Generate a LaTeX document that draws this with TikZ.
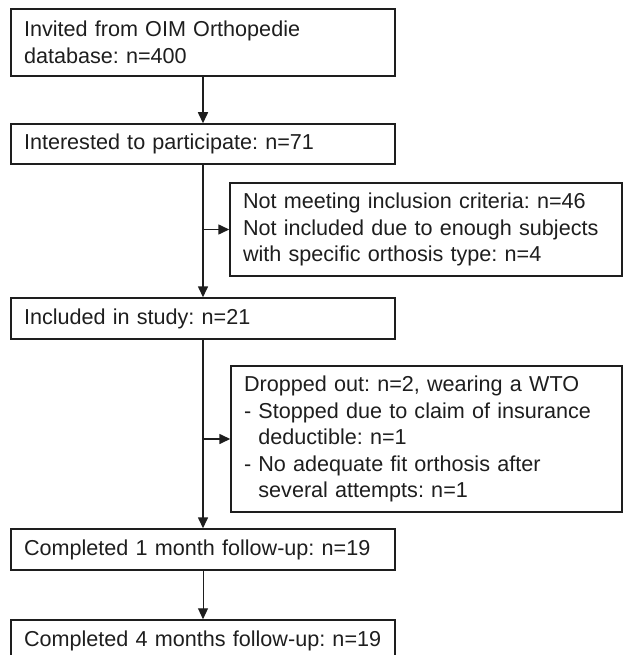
\documentclass[tikz,border=0pt]{standalone}
\usepackage{fontspec}
\setmainfont{Liberation Sans}
\usetikzlibrary{arrows.meta}
\definecolor{ink}{HTML}{1E1E1E}
\frenchspacing
\begin{document}
\begin{tikzpicture}[x=1pt,y=-1pt,
  box/.style={draw=ink, line width=1.5pt, rectangle, inner xsep=13pt, inner ysep=0pt,
    align=left, text=ink, font=\fontsize{21.6}{26.5}\selectfont\frenchspacing, anchor=center},
  arr/.style={draw=ink, line width=1.6pt, -{Triangle[length=11pt,width=10pt]}},
  thinarr/.style={draw=ink, line width=1pt, -{Triangle[length=11pt,width=10pt]}}]
\useasboundingbox (0,0) rectangle (624,655);
\fill[white] (0,0) rectangle (624,655);
\node[box, minimum width=384pt, minimum height=67pt, text width=358pt] (b1) at (203,42.5)
  {Invited from OIM Orthopedie\\database: n=400};
\node[box, minimum width=384pt, minimum height=40pt, text width=358pt] (b2) at (203,144)
  {Interested to participate: n=71};
\node[box, minimum width=392pt, minimum height=93pt, text width=366pt] (s1) at (426,229.5)
  {Not meeting inclusion criteria: n=46\\Not included due to enough subjects\\with specific orthosis type: n=4};
\node[box, minimum width=384pt, minimum height=41pt, text width=358pt] (b3) at (203,318.5)
  {Included in study: n=21};
\node[box, minimum width=391pt, minimum height=146pt, text width=365pt] (s2) at (426.5,439)
  {Dropped out: n=2, wearing a WTO\\- Stopped due to claim of insurance\\\phantom{- }deductible: n=1\\- No adequate fit orthosis after\\\phantom{- }several attempts: n=1};
\node[box, minimum width=384pt, minimum height=41pt, text width=358pt] (b4) at (203,549.5)
  {Completed 1 month follow-up: n=19};
\node[box, minimum width=384pt, minimum height=41pt, text width=358pt] (b5) at (203,640.5)
  {Completed 4 months follow-up: n=19};
\draw[arr] (b1.south) -- (b2.north);
\draw[arr] (b2.south) -- (b3.north);
\coordinate (j1) at (b2.south |- s1.west);
\draw[arr] (j1) -- (s1.west);
\draw[arr] (b3.south) -- (b4.north);
\coordinate (j2) at (b3.south |- s2.west);
\draw[arr] (j2) -- (s2.west);
\draw[thinarr] (b4.south) -- (b5.north);
\end{tikzpicture}
\end{document}
